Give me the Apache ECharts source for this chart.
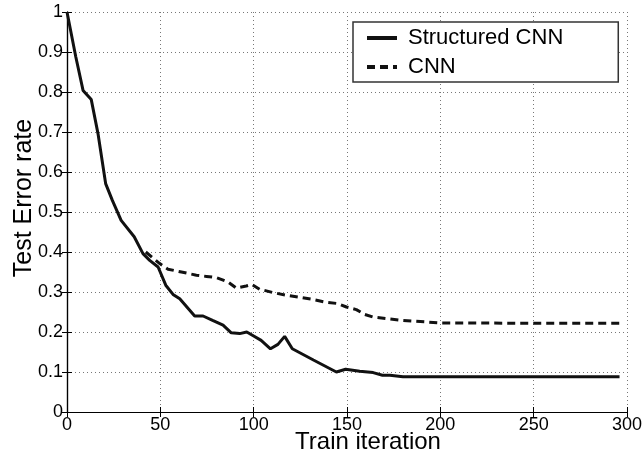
<!DOCTYPE html>
<html>
<head>
<meta charset="utf-8">
<script src="https://cdn.jsdelivr.net/npm/echarts@6/dist/echarts.min.js"></script>
<style>
  html, body { margin: 0; padding: 0; background: #fff; }
  #chart { width: 643px; height: 456px; }
</style>
</head>
<body>
<div id="chart"></div>
<script>
// Structured CNN curve (iteration, error rate)
const structX = [0, 4.7, 8.6, 13, 16.6, 20.7, 24.3, 29, 36, 40.7, 44.3, 48.8, 52.9, 56.8, 60.4, 68.4, 72.9, 78, 83.6, 88, 92.5, 96.3, 100, 104, 109, 113, 116.6, 120.7, 132, 144.3, 149.3, 156.8, 164, 169, 173, 180, 200, 250, 296];
const structY = [1.0, 0.888, 0.804, 0.781, 0.696, 0.571, 0.529, 0.479, 0.438, 0.396, 0.379, 0.3625, 0.317, 0.294, 0.283, 0.24, 0.24, 0.229, 0.217, 0.198, 0.196, 0.2, 0.19, 0.179, 0.158, 0.169, 0.189, 0.158, 0.13, 0.1, 0.107, 0.102, 0.0985, 0.092, 0.092, 0.088, 0.088, 0.088, 0.088];

// plain CNN curve
const cnnX = [42.2, 49.7, 54.1, 61.3, 69.3, 74.7, 80, 86.3, 90.7, 96, 99, 103.2, 110.4, 117.5, 123.8, 130.9, 138, 145.2, 149.7, 155, 159.5, 164, 171.1, 180, 192.5, 200, 250, 296];
const cnnY = [0.4, 0.371, 0.357, 0.35, 0.342, 0.339, 0.336, 0.325, 0.31, 0.315, 0.319, 0.307, 0.2985, 0.292, 0.2875, 0.282, 0.275, 0.271, 0.2625, 0.256, 0.244, 0.2375, 0.2335, 0.229, 0.225, 0.2225, 0.222, 0.222];

const seriesNames = ['Structured CNN', 'CNN'];
const xTicks = [0, 50, 100, 150, 200, 250, 300];
const yTicks = [0, 0.1, 0.2, 0.3, 0.4, 0.5, 0.6, 0.7, 0.8, 0.9, 1];

const zip = (xs, ys) => xs.map((x, i) => [x, ys[i]]);

const font = 'Liberation Sans, Arial, sans-serif';
const axisLine = { show: true, lineStyle: { color: '#000', width: 1.2 } };
const tick = { show: true, inside: true, length: 5, lineStyle: { color: '#000' } };
const dots = { show: true, lineStyle: { color: '#777', type: [1, 3], width: 1 } };

const chart = echarts.init(document.getElementById('chart'));
chart.setOption({
  animation: false,
  backgroundColor: '#fff',
  grid: { left: 67, right: 16, top: 12, bottom: 44, containLabel: false, outerBoundsMode: 'none' },
  legend: {
    orient: 'vertical',
    left: 353, top: 22,
    backgroundColor: '#fff',
    borderColor: '#333', borderWidth: 1.5, borderRadius: 0,
    padding: [5, 55, 4, 12],
    itemWidth: 30, itemHeight: 14, itemGap: 7,
    itemStyle: { opacity: 0 },
    lineStyle: { width: 4 },
    textStyle: { fontFamily: font, fontSize: 22, color: '#000', padding: [0, 0, 0, 6] },
    data: seriesNames
  },
  xAxis: [{
    type: 'value', min: 0, max: 300, interval: 50,
    name: 'Train iteration', nameLocation: 'middle', nameGap: 18, nameMoveOverlap: false,
    nameTextStyle: { fontFamily: font, fontSize: 24, color: '#000', padding: [0, 0, 0, 42] },
    axisLine, axisTick: tick, splitLine: dots,
    axisLabel: { fontFamily: font, fontSize: 18, color: '#000', margin: 4,
      formatter: v => xTicks.includes(v) ? String(v) : '' }
  }, {
    type: 'value', position: 'top', min: 0, max: 300, interval: 50,
    axisLine, axisTick: tick, axisLabel: { show: false }, splitLine: { show: false }
  }],
  yAxis: [{
    type: 'value', min: 0, max: 1, interval: 0.1,
    name: 'Test Error rate', nameLocation: 'middle', nameGap: 30, nameMoveOverlap: false,
    nameTextStyle: { fontFamily: font, fontSize: 25, color: '#000', padding: [0, 0, 0, 28] },
    axisLine, axisTick: tick, splitLine: dots,
    axisLabel: { fontFamily: font, fontSize: 18, color: '#000', margin: 4,
      formatter: v => {
        const t = yTicks.find(k => Math.abs(k - v) < 1e-9);
        return t === undefined ? '' : String(t);
      } }
  }, {
    type: 'value', position: 'right', min: 0, max: 1, interval: 0.1,
    axisLine, axisTick: tick, axisLabel: { show: false }, splitLine: { show: false }
  }],
  series: [{
    name: seriesNames[0], type: 'line', symbol: 'none',
    data: zip(structX, structY),
    lineStyle: { color: '#111', width: 3 },
    itemStyle: { color: '#111' }
  }, {
    name: seriesNames[1], type: 'line', symbol: 'none',
    data: zip(cnnX, cnnY),
    lineStyle: { color: '#111', width: 3, type: [8, 5] },
    itemStyle: { color: '#111' }
  }]
});
</script>
</body>
</html>
